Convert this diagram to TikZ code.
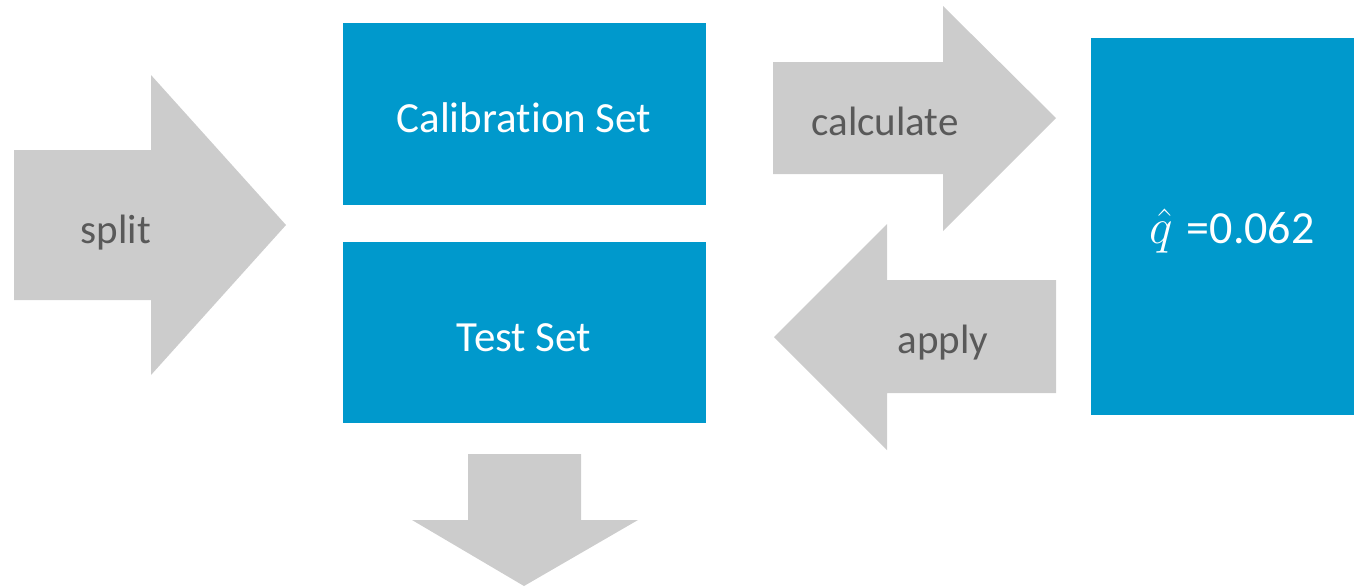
\documentclass[tikz,border=0pt]{standalone}
\usepackage{fontspec}
\setmainfont[Ligatures=NoCommon]{Carlito}
\definecolor{boxblue}{HTML}{0099CC}
\definecolor{arrowgray}{HTML}{CCCCCC}
\definecolor{labelgray}{HTML}{595959}
\begin{document}
\begin{tikzpicture}[x=0.5pt,y=-0.5pt,
  blockarrow/.style={fill=arrowgray},
  bluebox/.style={fill=boxblue},
  graylabel/.style={anchor=base,text=labelgray,font=\fontsize{20.5pt}{24pt}\selectfont,inner sep=0pt},
  whitelabel/.style={anchor=base,text=white,font=\fontsize{21.5pt}{26pt}\selectfont,inner sep=0pt}]
\useasboundingbox (0,0) rectangle (1355,586);
% split arrow
\fill[blockarrow] (14,150) -- (151,150) -- (151,75) -- (286,225) -- (151,375) -- (151,300) -- (14,300) -- cycle;
% calculate arrow
\fill[blockarrow] (773,62) -- (943,62) -- (943,6) -- (1056,118) -- (943,231) -- (943,174) -- (773,174) -- cycle;
% apply arrow
\fill[blockarrow] (1056,280) -- (887,280) -- (887,224) -- (774,337) -- (887,450) -- (887,393) -- (1056,393) -- cycle;
% down arrow
\fill[blockarrow] (468,454) -- (581,454) -- (581,520) -- (638,520) -- (524,586) -- (412,520) -- (468,520) -- cycle;
% boxes
\fill[bluebox] (343,23) rectangle (706,205);
\fill[bluebox] (343,242) rectangle (706,423);
\fill[bluebox] (1091,38) rectangle (1354,415);
% labels
\node[graylabel] (split) at (116,243) {split};
\node[graylabel] (calc) at (885,135) {calculate};
\node[graylabel] (apply) at (943,353) {apply};
\node[whitelabel] (cal) at (524,132) {Calibration Set};
\node[whitelabel] (test) at (524,351) {Test Set};
\node[whitelabel,font=\fontsize{23pt}{27pt}\selectfont] (qhat) at (1232,243) {$\hat{q}$\hspace{7pt}=0.062};
\end{tikzpicture}
\end{document}
